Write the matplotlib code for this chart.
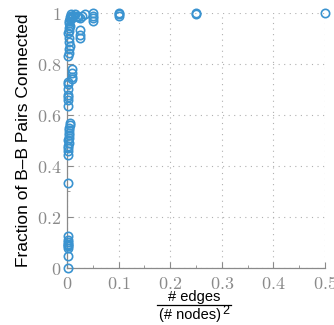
import numpy as np
import matplotlib
matplotlib.use("Agg")
import matplotlib.pyplot as plt
from matplotlib.ticker import MultipleLocator, FuncFormatter
from matplotlib.lines import Line2D

# edge density (#edges / #nodes^2) and fraction of B-B pairs connected
density = [0.001, 0.001, 0.001, 0.001, 0.002, 0.001, 0.002, 0.001, 0.001, 0.001,
           0.001, 0.002, 0.002, 0.002, 0.003, 0.002, 0.003, 0.003, 0.004, 0.004,
           0.004, 0.005, 0.005,
           0.001, 0.001, 0.002, 0.002, 0.002, 0.001, 0.001,
           0.009, 0.010, 0.010, 0.009,
           0.002, 0.003, 0.004, 0.005, 0.004, 0.003, 0.002, 0.003, 0.004, 0.005,
           0.003, 0.004, 0.006, 0.005, 0.007, 0.008, 0.010, 0.012, 0.015, 0.020,
           0.022, 0.025, 0.030, 0.035,
           0.025, 0.025, 0.025,
           0.05, 0.05, 0.05, 0.05,
           0.10, 0.10, 0.10,
           0.25, 0.25,
           0.50]
frac_connected = [0.0, 0.047, 0.08, 0.085, 0.09, 0.095, 0.10, 0.11, 0.125, 0.335,
                  0.445, 0.46, 0.47, 0.48, 0.49, 0.50, 0.51, 0.52, 0.53, 0.54,
                  0.55, 0.56, 0.57,
                  0.634, 0.66, 0.67, 0.68, 0.70, 0.72, 0.73,
                  0.74, 0.75, 0.765, 0.78,
                  0.83, 0.845, 0.86, 0.87, 0.885, 0.90, 0.92, 0.93, 0.94, 0.95,
                  0.96, 0.97, 0.975, 0.985, 0.99, 0.995, 0.98, 0.99, 0.995, 0.99,
                  0.985, 0.98, 0.99, 0.995,
                  0.935, 0.915, 0.90,
                  0.97, 0.98, 0.99, 1.0,
                  0.99, 0.995, 1.0,
                  0.995, 1.0,
                  1.0]

plt.rcParams['mathtext.fontset'] = 'cm'
grey = '#8a8a8a'
blue = '#3a93d0'
W, H = 334, 325

fig = plt.figure(figsize=(W / 100, H / 100), dpi=100)
ax = fig.add_axes([0.2006, 0.1754, 0.7725, 0.7846])

ax.plot(density, frac_connected, linestyle='none', marker='o', markersize=6,
        markerfacecolor='none', markeredgecolor=blue, markeredgewidth=1.2,
        clip_on=False, zorder=5)

ax.set_xlim(0, 0.5)
ax.set_ylim(0, 1)
ax.xaxis.set_major_locator(MultipleLocator(0.1))
ax.xaxis.set_minor_locator(MultipleLocator(0.05))
ax.yaxis.set_major_locator(MultipleLocator(0.2))
ax.yaxis.set_minor_locator(MultipleLocator(0.1))
fmt = FuncFormatter(lambda v, p: f'${v:g}$')
ax.xaxis.set_major_formatter(fmt)
ax.yaxis.set_major_formatter(fmt)

ax.tick_params(which='both', direction='in', colors=grey, labelsize=13, labelcolor=grey)
ax.tick_params(which='major', length=4, width=0.8)
ax.tick_params(which='minor', length=2, width=0.6)
ax.tick_params(axis='x', pad=5)
ax.tick_params(axis='y', pad=4)

for s in ['top', 'right']:
    ax.spines[s].set_visible(False)
for s in ['left', 'bottom']:
    ax.spines[s].set_color(grey)
    ax.spines[s].set_linewidth(0.9)

ax.grid(True, which='major', linestyle=(0, (1, 4)), color='#b0b0b0', linewidth=0.8)
ax.set_axisbelow(True)

ax.set_ylabel('Fraction of B\u2013B Pairs Connected', fontsize=12.5,
              family='Liberation Sans', labelpad=4)

# x label drawn as a stacked fraction
fig.text(194 / W, 1 - 297 / H, '# edges', ha='center', va='center',
         fontsize=10.5, family='Liberation Sans')
fig.add_artist(Line2D([157 / W, 231 / W], [1 - 305 / H, 1 - 305 / H],
                      color='black', linewidth=0.9))
fig.text(190 / W, 1 - 315 / H, '(# nodes)', ha='center', va='center',
         fontsize=10.5, family='Liberation Sans')
fig.text(222 / W, 1 - 311 / H, '2', ha='left', va='center',
         fontsize=9, family='Liberation Sans')

fig.savefig('out.png', dpi=100)
